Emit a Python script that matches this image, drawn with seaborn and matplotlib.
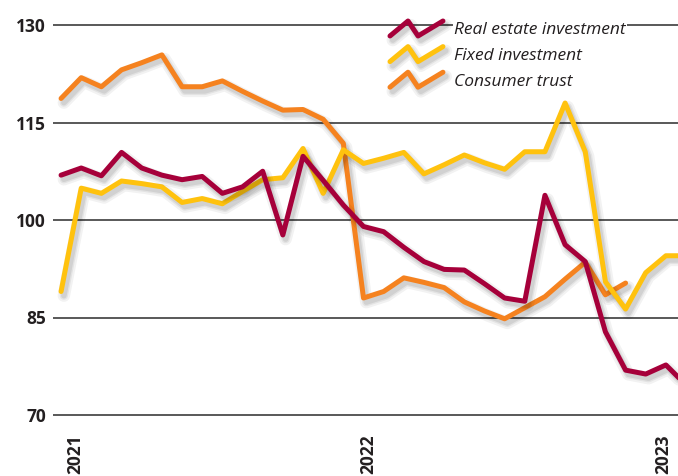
import numpy as np
import pandas as pd
import matplotlib
matplotlib.use("Agg")
import matplotlib.pyplot as plt
import matplotlib.patheffects as pe
import seaborn as sns
from matplotlib.lines import Line2D
from matplotlib.legend_handler import HandlerBase
from matplotlib.font_manager import FontProperties

# values, one per period
real_estate = [106.9, 108.0, 106.8, 110.4, 108.0, 106.9, 106.2, 106.7, 104.1, 105.1,
               107.5, 97.7, 109.8, 106.1, 102.3, 99.0, 98.2, 95.8, 93.6, 92.4,
               92.3, 90.2, 88.0, 87.5, 103.8, 96.2, 93.6, 82.8, 76.9, 76.3,
               77.7, 74.6]
fixed_inv = [89.0, 104.9, 104.1, 106.0, 105.6, 105.1, 102.7, 103.3, 102.5, 104.4,
             106.2, 106.5, 111.0, 104.1, 110.8, 108.7, 109.5, 110.4, 107.1, 108.5,
             110.0, 108.8, 107.8, 110.5, 110.5, 118.0, 110.5, 90.5, 86.3, 91.9,
             94.5, 94.5]
consumer_trust = [118.7, 121.9, 120.5, 123.1, 124.2, 125.4, 120.5, 120.5, 121.4, 119.8,
                  118.3, 116.9, 117.0, 115.5, 111.8, 88.0, 89.0, 91.1, 90.4, 89.6,
                  87.4, 86.0, 84.8, 86.5, 88.2, 90.9, 93.5, 88.5, 90.3]

series_names = ["Real estate investment", "Fixed investment", "Consumer trust"]
series_colors = ["#a6003a", "#ffc20e", "#f5821f"]
year_labels = ["2021", "2022", "2023"]
year_pos = [0.69, 15.23, 29.86]
y_ticks = [70, 85, 100, 115, 130]

frames = []
for name, vals in zip(series_names, [real_estate, fixed_inv, consumer_trust]):
    frames.append(pd.DataFrame({"period": np.arange(len(vals)), "value": vals, "series": name}))
df = pd.concat(frames, ignore_index=True)

sns.set_style("white")
plt.rcParams["font.family"] = ["Open Sans", "DejaVu Sans"]

fig = plt.figure(figsize=(6.78, 4.76), dpi=100)
ax = fig.add_axes([53 / 678, 48 / 476, 625 / 678, 416 / 476])

palette = dict(zip(series_names, series_colors))
sns.lineplot(data=df, x="period", y="value", hue="series",
             hue_order=series_names[::-1], palette=palette,
             linewidth=3.6, legend=False, ax=ax)

shadow = [pe.SimpleLineShadow(offset=(2, -3), shadow_color="black", alpha=0.05, linewidth=9),
          pe.SimpleLineShadow(offset=(2, -3), shadow_color="black", alpha=0.06, linewidth=6),
          pe.SimpleLineShadow(offset=(2, -3), shadow_color="black", alpha=0.08, linewidth=4),
          pe.Normal()]
for ln in ax.lines:
    ln.set_solid_capstyle("round")
    ln.set_solid_joinstyle("round")
    ln.set_path_effects(shadow)

ax.set_xlim(-0.4, 30.6)
ax.set_ylim(68, 132)
ax.set_yticks(y_ticks)
ax.set_xticks(year_pos)
ax.set_xticklabels(year_labels, rotation=90, va="top", ha="center")
for lab in ax.get_yticklabels() + ax.get_xticklabels():
    lab.set_fontweight("bold")
    lab.set_fontsize(12.5)
    lab.set_color("#231f20")
ax.tick_params(axis="y", length=0, pad=5)
ax.tick_params(axis="x", length=0, pad=4.5)
ax.set_xlabel("")
ax.set_ylabel("")
ax.grid(axis="y", color="#3c3c3c", linewidth=1.2)
ax.set_axisbelow(True)
for s in ax.spines.values():
    s.set_visible(False)


class ZigZag(HandlerBase):
    def create_artists(self, legend, orig_handle, xdescent, ydescent,
                       width, height, fontsize, trans):
        xs = np.array([0.0, 0.34, 0.53, 1.0]) * width - xdescent
        ys = np.array([0.0, 1.0, 0.0, 1.0]) * height - ydescent
        ln = Line2D(xs, ys, color=orig_handle.get_color(), linewidth=3.6,
                    solid_capstyle="round", solid_joinstyle="round")
        ln.set_path_effects(shadow)
        ln.set_transform(trans)
        return [ln]


handles = [Line2D([], [], color=c) for c in series_colors]
leg = ax.legend(handles, series_names, handler_map={Line2D: ZigZag()},
                loc="upper left", bbox_to_anchor=(390 / 678, 1 - 21 / 476),
                bbox_transform=fig.transFigure, frameon=False,
                prop=FontProperties(family="Open Sans", style="italic", size=12.5),
                handlelength=3.05, handleheight=0.95, handletextpad=0.65,
                labelspacing=0.47, borderpad=0, borderaxespad=0)
for t in leg.get_texts():
    t.set_color("#231f20")
    t.set_bbox(dict(facecolor="white", edgecolor="none", pad=1))

fig.savefig("out.png", dpi=100)
